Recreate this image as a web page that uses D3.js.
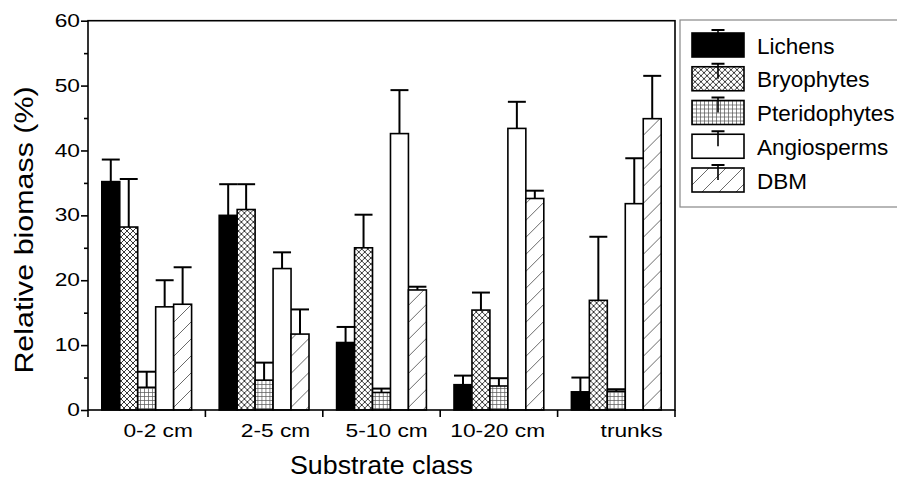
<!DOCTYPE html>
<html>
<head>
<meta charset="utf-8">
<script src="https://cdn.jsdelivr.net/npm/d3@7"></script>
<style>
  body { margin: 0; background: #fff; }
  text { font-family: Arial, "Liberation Sans", sans-serif; fill: #000; }
</style>
</head>
<body>
<div class="canvas"></div>
<script>
const categories = ["0-2 cm", "2-5 cm", "5-10 cm", "10-20 cm", "trunks"];
const seriesNames = ["Lichens", "Bryophytes", "Pteridophytes", "Angiosperms", "DBM"];

const lichens = [35.2, 30.0, 10.4, 3.9, 2.8];
const bryophytes = [28.2, 30.9, 25.0, 15.4, 16.9];
const pteridophytes = [3.5, 4.6, 2.7, 3.7, 2.9];
const angiosperms = [15.9, 21.8, 42.6, 43.4, 31.8];
const dbm = [16.3, 11.7, 18.5, 32.6, 44.9];

const lichensErr = [3.4, 4.8, 2.4, 1.4, 2.2];
const bryophytesErr = [7.4, 3.9, 5.1, 2.7, 9.8];
const pteridophytesErr = [2.4, 2.7, 0.6, 1.2, 0.3];
const angiospermsErr = [4.1, 2.5, 6.7, 4.1, 7.0];
const dbmErr = [5.7, 3.8, 0.5, 1.2, 6.6];

const yTicks = [0, 10, 20, 30, 40, 50, 60];

const values = [lichens, bryophytes, pteridophytes, angiosperms, dbm];
const errors = [lichensErr, bryophytesErr, pteridophytesErr, angiospermsErr, dbmErr];
const fills = ["#000", "url(#cross)", "url(#grid)", "#fff", "url(#diag)"];

const dims = { width: 897, height: 482 };
const plot = { left: 88, right: 675, top: 20.7, bottom: 410 };
// tick labels in the original are stretched sideways
const stretch = 1.3;

const svg = d3
  .select(".canvas")
  .append("svg")
  .attr("width", dims.width)
  .attr("height", dims.height);

// fill patterns
const defs = svg.append("defs");

const cross = defs
  .append("pattern")
  .attr("id", "cross")
  .attr("patternUnits", "userSpaceOnUse")
  .attr("width", 6)
  .attr("height", 6);
cross.append("rect").attr("width", 6).attr("height", 6).attr("fill", "#fff");
cross
  .append("path")
  .attr("d", "M0,0L6,6M6,0L0,6")
  .attr("stroke", "#222")
  .attr("stroke-width", 0.9);

const grid = defs
  .append("pattern")
  .attr("id", "grid")
  .attr("patternUnits", "userSpaceOnUse")
  .attr("width", 4)
  .attr("height", 4);
grid.append("rect").attr("width", 4).attr("height", 4).attr("fill", "#fff");
grid
  .append("path")
  .attr("d", "M0,0.5H4M0.5,0V4")
  .attr("stroke", "#555")
  .attr("stroke-width", 0.7);

const diag = defs
  .append("pattern")
  .attr("id", "diag")
  .attr("patternUnits", "userSpaceOnUse")
  .attr("width", 17)
  .attr("height", 17);
diag.append("rect").attr("width", 17).attr("height", 17).attr("fill", "#fff");
diag
  .append("path")
  .attr("d", "M0,17L17,0M-2,2L2,-2M15,19L19,15")
  .attr("stroke", "#444")
  .attr("stroke-width", 0.8);

const x0 = d3
  .scaleBand()
  .domain(categories)
  .range([plot.left, plot.right])
  .padding(0);

const inset = 13.8;
const x1 = d3
  .scaleBand()
  .domain(seriesNames)
  .range([inset, x0.bandwidth() - inset])
  .padding(0);

const y = d3.scaleLinear().domain([0, 60]).range([plot.bottom, plot.top]);

// bars + error bars
const groups = svg
  .selectAll("g.group")
  .data(categories)
  .enter()
  .append("g")
  .attr("class", "group")
  .attr("transform", (d) => `translate(${x0(d)},0)`);

groups.each(function (cat, ci) {
  const g = d3.select(this);
  const items = seriesNames.map((s, si) => ({
    name: s,
    v: values[si][ci],
    e: errors[si][ci],
    fill: fills[si],
  }));

  g.selectAll("line.err")
    .data(items)
    .enter()
    .append("line")
    .attr("class", "err")
    .attr("x1", (d) => x1(d.name) + x1.bandwidth() / 2)
    .attr("x2", (d) => x1(d.name) + x1.bandwidth() / 2)
    .attr("y1", (d) => y(d.v))
    .attr("y2", (d) => y(d.v + d.e))
    .attr("stroke", "#000")
    .attr("stroke-width", 2);

  g.selectAll("line.cap")
    .data(items)
    .enter()
    .append("line")
    .attr("class", "cap")
    .attr("x1", (d) => x1(d.name))
    .attr("x2", (d) => x1(d.name) + x1.bandwidth())
    .attr("y1", (d) => y(d.v + d.e))
    .attr("y2", (d) => y(d.v + d.e))
    .attr("stroke", "#000")
    .attr("stroke-width", 2);

  g.selectAll("rect.bar")
    .data(items)
    .enter()
    .append("rect")
    .attr("class", "bar")
    .attr("x", (d) => x1(d.name))
    .attr("y", (d) => y(d.v))
    .attr("width", x1.bandwidth())
    .attr("height", (d) => y(0) - y(d.v))
    .attr("fill", (d) => d.fill)
    .attr("stroke", "#000")
    .attr("stroke-width", 1.6);
});

// frame
svg
  .append("rect")
  .attr("x", plot.left)
  .attr("y", plot.top)
  .attr("width", plot.right - plot.left)
  .attr("height", plot.bottom - plot.top)
  .attr("fill", "none")
  .attr("stroke", "#000")
  .attr("stroke-width", 1.6);

// y axis
const yAxis = d3
  .axisLeft(y)
  .tickValues(yTicks)
  .tickSize(7)
  .tickPadding(2)
  .tickFormat(d3.format("d"));

const yG = svg
  .append("g")
  .attr("transform", `translate(${plot.left},0)`)
  .call(yAxis);
yG.select(".domain").remove();
yG.selectAll("line").attr("stroke", "#000").attr("stroke-width", 1.6);
yG.selectAll("text")
  .attr("font-size", 17.5)
  .attr("x", -8 / stretch)
  .attr("transform", `scale(${stretch},1)`)
  .style("font-family", "Arial, 'Liberation Sans', sans-serif");

const yMinor = d3
  .axisLeft(y)
  .tickValues(d3.range(5, 60, 10))
  .tickSize(4)
  .tickFormat("");
const yMG = svg
  .append("g")
  .attr("transform", `translate(${plot.left},0)`)
  .call(yMinor);
yMG.select(".domain").remove();
yMG.selectAll("line").attr("stroke", "#000").attr("stroke-width", 1.6);

// x axis ticks at group boundaries
const boundaries = categories.map((c) => x0(c)).concat([plot.right]);
svg
  .append("g")
  .selectAll("line")
  .data(boundaries)
  .enter()
  .append("line")
  .attr("x1", (d) => d)
  .attr("x2", (d) => d)
  .attr("y1", plot.bottom)
  .attr("y2", plot.bottom + 7)
  .attr("stroke", "#000")
  .attr("stroke-width", 1.6);

svg
  .append("g")
  .selectAll("text")
  .data(categories)
  .enter()
  .append("text")
  .attr(
    "transform",
    (d) => `translate(${x0(d) + x0.bandwidth() - 12.5}, ${plot.bottom + 27}) scale(${stretch},1)`
  )
  .attr("text-anchor", "end")
  .attr("font-size", 17.5)
  .text((d) => d);

// axis titles
svg
  .append("text")
  .attr("transform", `translate(${(plot.left + plot.right) / 2}, 474) scale(1.03,1)`)
  .attr("text-anchor", "middle")
  .attr("font-size", 26)
  .text("Substrate class");

svg
  .append("text")
  .attr("transform", "translate(33, 230) rotate(-90) scale(1.17,1)")
  .attr("text-anchor", "middle")
  .attr("font-size", 26)
  .text("Relative biomass (%)");

// legend
const legend = svg.append("g").attr("transform", "translate(680,20)");
legend
  .append("rect")
  .attr("x", 0)
  .attr("y", 0)
  .attr("width", 230)
  .attr("height", 187)
  .attr("fill", "#fff")
  .attr("stroke", "#888")
  .attr("stroke-width", 1.2);

const items = legend
  .selectAll("g.item")
  .data(seriesNames)
  .enter()
  .append("g")
  .attr("class", "item")
  .attr("transform", (d, i) => `translate(12, ${13 + i * 33.75})`);

items
  .append("rect")
  .attr("width", 52)
  .attr("height", 24)
  .attr("fill", (d, i) => fills[i])
  .attr("stroke", "#000")
  .attr("stroke-width", 1.6);

items
  .append("line")
  .attr("x1", 26)
  .attr("x2", 26)
  .attr("y1", -3)
  .attr("y2", 12)
  .attr("stroke", "#000")
  .attr("stroke-width", 1.6);

items
  .append("line")
  .attr("x1", 19.5)
  .attr("x2", 32.5)
  .attr("y1", -3)
  .attr("y2", -3)
  .attr("stroke", "#000")
  .attr("stroke-width", 2);

items
  .append("text")
  .attr("x", 65)
  .attr("y", 20.5)
  .attr("font-size", 22.5)
  .text((d) => d);
</script>
</body>
</html>
